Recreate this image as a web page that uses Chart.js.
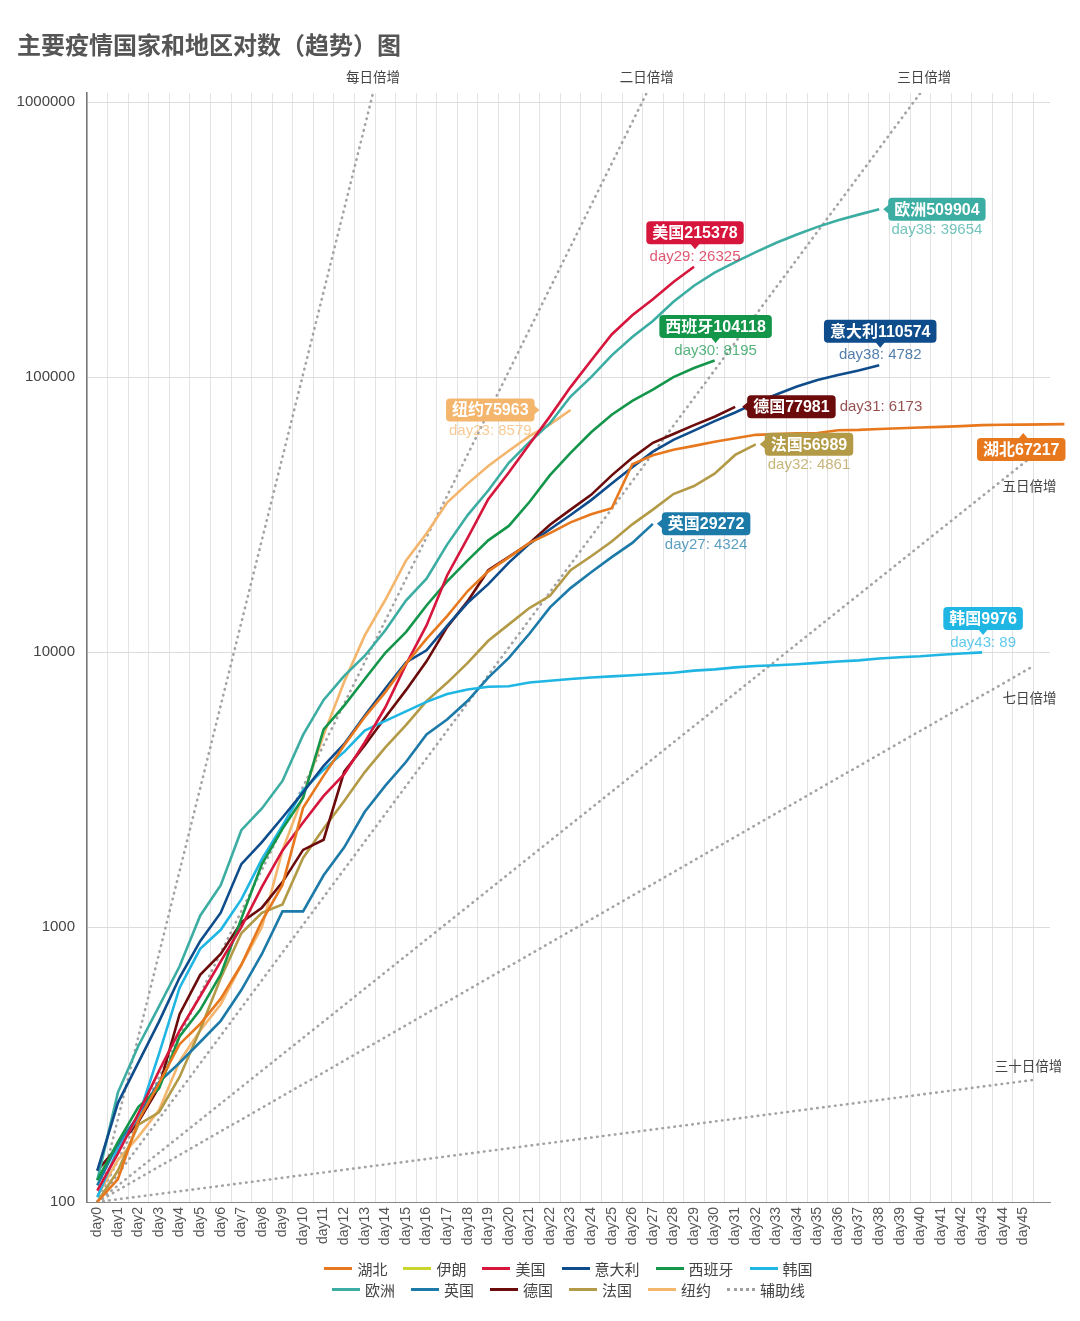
<!DOCTYPE html>
<html>
<head>
<meta charset="utf-8">
<script src="https://cdn.jsdelivr.net/npm/chart.js@4.4.1/dist/chart.umd.min.js"></script>
<style>
  body { margin: 0; background: #fff; }
  #wrap { position: relative; width: 1080px; height: 1321px; }
  #title { position: absolute; left: 17px; top: 26px; line-height: 32px; font: bold 24px 'Noto Sans CJK SC', sans-serif; color: #555; }
  #legend { position: absolute; left: 87px; top: 1258px; width: 963px; font: 15px 'Noto Sans CJK SC', sans-serif; color: #444; }
  .row { display: flex; justify-content: center; gap: 16px; height: 21px; align-items: center; }
  .item { display: flex; align-items: center; }
  .sw { width: 28px; height: 3px; margin-right: 5px; }
  .sw.dot { height: 0; border-top: 3px dotted #a0a0a0; }
</style>
</head>
<body>
<div id="wrap">
  <canvas id="trendChart" width="1080" height="1321"></canvas>
  <div id="title">主要疫情国家和地区对数（趋势）图</div>
  <div id="legend"></div>
</div>
<script>
// 累计确诊，day0 = 首次超过100例
const hubei = [100, 121, 198, 270, 375, 444, 549, 729, 1052, 1423, 2714, 3554, 4586, 5806, 7153, 9074, 11177, 13522, 16678, 19665, 22112, 24953, 27100, 29631, 31728, 33366, 48206, 51986, 54406, 56249, 58182, 59989, 61682, 62031, 62442, 62662, 64084, 64287, 64786, 65187, 65596, 65914, 66337, 66907, 67103, 67217, 67332, 67466, 67592, 67666];
const usa = [110, 150, 210, 300, 420, 560, 750, 1000, 1400, 1900, 2400, 3000, 3600, 4700, 6300, 9000, 12500, 19000, 26000, 36000, 45000, 57000, 72000, 92000, 115000, 143000, 168000, 192000, 222000, 252000];
const italy = [130, 229, 322, 453, 655, 888, 1128, 1694, 2036, 2502, 3089, 3858, 4636, 5883, 7375, 9172, 10149, 12462, 15113, 17660, 21157, 24747, 27980, 31506, 35713, 41035, 47021, 53578, 59138, 63927, 69176, 74386, 80589, 86498, 92472, 97689, 101739, 105792, 110574];
const spain = [120, 165, 222, 259, 400, 500, 673, 1073, 1695, 2277, 2950, 5232, 6391, 7988, 9942, 11826, 14769, 18077, 21571, 25496, 28768, 35136, 44000, 53000, 63000, 73000, 82000, 90000, 100000, 108000, 115000];
const korea = [104, 156, 204, 346, 602, 833, 977, 1261, 1766, 2337, 3150, 3736, 4335, 5186, 5621, 6088, 6593, 7041, 7313, 7478, 7513, 7755, 7869, 7979, 8086, 8162, 8236, 8320, 8413, 8565, 8652, 8799, 8897, 8961, 9037, 9137, 9241, 9332, 9478, 9583, 9661, 9786, 9887, 9976];
const europe = [120, 250, 370, 515, 720, 1100, 1420, 2250, 2700, 3400, 5000, 6700, 8200, 9700, 12000, 15400, 18500, 24600, 31500, 38700, 48800, 58000, 68000, 85000, 100000, 120000, 140000, 160000, 188000, 215000, 240000, 262000, 285000, 308000, 330000, 352000, 372000, 390000, 408000];
const uk = [115, 163, 206, 273, 321, 382, 456, 590, 798, 1140, 1140, 1543, 1950, 2626, 3269, 3983, 5018, 5683, 6650, 8077, 9529, 11658, 14543, 17089, 19522, 22141, 24948, 29272];
const germany = [130, 159, 196, 262, 482, 670, 799, 1040, 1176, 1457, 1908, 2078, 3675, 4585, 5795, 7272, 9257, 12327, 15320, 19848, 22213, 24873, 29056, 32986, 37323, 43938, 50871, 57695, 62095, 66885, 71808, 77981];
const france = [100, 130, 191, 212, 285, 423, 653, 949, 1126, 1209, 1784, 2281, 2876, 3661, 4499, 5423, 6633, 7730, 9134, 10995, 12612, 14459, 16018, 19856, 22304, 25233, 29155, 32964, 37575, 40174, 44550, 52128, 56989];
const newYork = [105, 142, 173, 216, 325, 421, 524, 729, 1000, 1900, 3000, 5000, 7800, 11500, 15500, 21500, 27000, 35000, 41000, 47500, 54000, 61000, 67384, 75963];

const seriesNames = ['湖北', '美国', '意大利', '西班牙', '韩国', '欧洲', '英国', '德国', '法国', '纽约'];
const seriesValues = [hubei, usa, italy, spain, korea, europe, uk, germany, france, newYork];
const legendNames = [['湖北', '伊朗', '美国', '意大利', '西班牙', '韩国'], ['欧洲', '英国', '德国', '法国', '纽约', '辅助线']];

// 辅助线：从 day0 的 100 例出发
const helperNames = ['每日倍增', '二日倍增', '三日倍增', '五日倍增', '七日倍增', '三十日倍增'];
const helperEndDay = [13.4, 26.7, 40.0, 45.5, 45.5, 45.5];
const helperEndValue = [1080000, 1080000, 1080000, 52000, 8900, 278];

const yTicks = [100, 1000, 10000, 100000, 1000000];

// 标注
const calloutSeries = ['欧洲', '美国', '西班牙', '意大利', '纽约', '德国', '法国', '湖北', '英国', '韩国'];
const calloutText = ['欧洲509904', '美国215378', '西班牙104118', '意大利110574', '纽约75963', '德国77981', '法国56989', '湖北67217', '英国29272', '韩国9976'];
const calloutSub = ['day38: 39654', 'day29: 26325', 'day30: 8195', 'day38: 4782', 'day23: 8579', 'day31: 6173', 'day32: 4861', '', 'day27: 4324', 'day43: 89'];
const calloutDay = [38, 29, 30, 38, 23, 31, 32, 45, 27, 43];

const colors = {
    '湖北': '#e8781e', '伊朗': '#c9d42c', '美国': '#d6163c', '意大利': '#0f4c8c',
    '西班牙': '#14964a', '韩国': '#20b6e4', '欧洲': '#3cada2', '英国': '#1c7aa9',
    '德国': '#6b0b0b', '法国': '#b39a46', '纽约': '#f4b56c', '辅助线': '#a0a0a0'
};
const place = { '欧洲': 'right', '美国': 'up', '西班牙': 'up', '意大利': 'up', '纽约': 'left', '德国': 'right', '法国': 'right', '湖北': 'down', '英国': 'right', '韩国': 'up' };
const helperOffset = [[0, -16], [0, -16], [4, -16], [-4, 31], [-4, 32], [-5, -14]];

const CJK = "'Noto Sans CJK SC'";
Chart.defaults.font.family = "'Liberation Sans', " + CJK + ", sans-serif";

const datasets = seriesNames.map((name, k) => ({
    label: name,
    data: seriesValues[k].map((v, i) => ({ x: i, y: v })),
    borderColor: colors[name],
    borderWidth: 2.6,
    pointRadius: 0,
    tension: 0,
    clip: name === '湖北' ? false : undefined
}));
helperNames.forEach((name, i) => {
    datasets.push({
        label: name,
        data: [{ x: 0, y: 100 }, { x: helperEndDay[i], y: helperEndValue[i] }],
        borderColor: '#a3a3a3',
        borderWidth: 2.6,
        borderDash: [0.5, 5.5],
        borderCapStyle: 'round',
        pointRadius: 0
    });
});

function roundRect(ctx, x, y, w, h, r) {
    ctx.beginPath();
    ctx.moveTo(x + r, y);
    ctx.arcTo(x + w, y, x + w, y + h, r);
    ctx.arcTo(x + w, y + h, x, y + h, r);
    ctx.arcTo(x, y + h, x, y, r);
    ctx.arcTo(x, y, x + w, y, r);
    ctx.closePath();
    ctx.fill();
}

const labelPlugin = {
    id: 'labels',
    afterDatasetsDraw(chart) {
        const ctx = chart.ctx;
        ctx.save();
        ctx.textBaseline = 'middle';

        // 辅助线名称
        ctx.font = '13.5px ' + CJK;
        ctx.fillStyle = '#444';
        ctx.textAlign = 'center';
        helperNames.forEach((name, i) => {
            const p = chart.getDatasetMeta(seriesNames.length + i).data[1];
            ctx.fillText(name, p.x + helperOffset[i][0], p.y + helperOffset[i][1]);
        });

        // 气泡标注
        calloutSeries.forEach((name, k) => {
            const meta = chart.getDatasetMeta(seriesNames.indexOf(name));
            const p = meta.data[calloutDay[k]];
            const col = colors[name];
            ctx.font = 'bold 16px ' + "'Liberation Sans', " + CJK;
            const w = ctx.measureText(calloutText[k]).width + 12;
            const h = 23;
            let x0, yc, subX, subY, subAlign = 'center';
            const pl = place[name];
            if (pl === 'right') {
                x0 = p.x + 9; yc = p.y;
                subX = x0 + w / 2; subY = yc + 21;
                if (name === '德国') { x0 = p.x + 12; subX = x0 + w + 4; subY = yc; subAlign = 'left'; }
            } else if (pl === 'left') {
                x0 = p.x - 36 - w; yc = p.y;
                subX = x0 + w / 2; subY = yc + 21;
            } else if (pl === 'up') {
                x0 = p.x + 1 - w / 2; yc = p.y - 34;
                subX = p.x + 1; subY = p.y - 10;
            } else {
                x0 = p.x - 2 - w / 2; yc = p.y + 25;
            }
            ctx.fillStyle = col;
            roundRect(ctx, x0, yc - h / 2, w, h, 4);
            ctx.beginPath();
            if (pl === 'right') {
                ctx.moveTo(x0 + 1, yc - 5); ctx.lineTo(x0 - 5, yc); ctx.lineTo(x0 + 1, yc + 5);
            } else if (pl === 'left') {
                ctx.moveTo(x0 + w - 1, yc - 5); ctx.lineTo(x0 + w + 5, yc); ctx.lineTo(x0 + w - 1, yc + 5);
            } else if (pl === 'up') {
                const cx = x0 + w / 2;
                ctx.moveTo(cx - 5, yc + h / 2 - 1); ctx.lineTo(cx, yc + h / 2 + 5); ctx.lineTo(cx + 5, yc + h / 2 - 1);
            } else {
                const cx = x0 + w / 2 + 2;
                ctx.moveTo(cx - 5, yc - h / 2 + 1); ctx.lineTo(cx, yc - h / 2 - 5); ctx.lineTo(cx + 5, yc - h / 2 + 1);
            }
            ctx.fill();
            ctx.fillStyle = '#fff';
            ctx.textAlign = 'center';
            ctx.fillText(calloutText[k], x0 + w / 2, yc + 1);
            if (calloutSub[k]) {
                ctx.font = '15px "Liberation Sans"';
                ctx.globalAlpha = 0.72;
                ctx.fillStyle = col;
                ctx.textAlign = subAlign;
                ctx.fillText(calloutSub[k], subX, subY);
                ctx.globalAlpha = 1;
            }
        });
        ctx.restore();
    }
};

new Chart(document.getElementById('trendChart').getContext('2d'), {
    type: 'line',
    data: { datasets },
    options: {
        responsive: false,
        animation: false,
        layout: { padding: { top: 93, right: 30, bottom: 60, left: 0 } },
        plugins: { legend: { display: false }, tooltip: { enabled: false } },
        scales: {
            x: {
                type: 'linear',
                min: -0.5,
                max: 46.3,
                afterFit: (s) => { s.height = 59; },
                ticks: {
                    stepSize: 1,
                    includeBounds: false,
                    autoSkip: false,
                    minRotation: 90,
                    maxRotation: 90,
                    padding: 5,
                    color: '#555',
                    font: { size: 14 },
                    callback: (v) => (v <= 45 ? 'day' + v : '')
                },
                grid: { offset: true, color: '#e3e3e3', drawTicks: false },
                border: { color: '#888', width: 1 }
            },
            y: {
                type: 'logarithmic',
                min: 100,
                max: 1080000,
                afterFit: (s) => { s.width = 87; },
                afterBuildTicks: (s) => { s.ticks = yTicks.map((v) => ({ value: v })); },
                ticks: {
                    padding: 12,
                    color: '#444',
                    font: { size: 15 },
                    callback: (v) => String(v)
                },
                grid: { color: '#dcdcdc', drawTicks: false },
                border: { color: '#777', width: 1.5 }
            }
        }
    },
    plugins: [labelPlugin]
});

// 图例
const legendEl = document.getElementById('legend');
legendNames.forEach((row) => {
    const r = document.createElement('div');
    r.className = 'row';
    row.forEach((name) => {
        const item = document.createElement('span');
        item.className = 'item';
        const sw = document.createElement('span');
        sw.className = name === '辅助线' ? 'sw dot' : 'sw';
        if (name !== '辅助线') sw.style.background = colors[name];
        item.appendChild(sw);
        item.appendChild(document.createTextNode(name));
        r.appendChild(item);
    });
    legendEl.appendChild(r);
});
</script>
</body>
</html>
